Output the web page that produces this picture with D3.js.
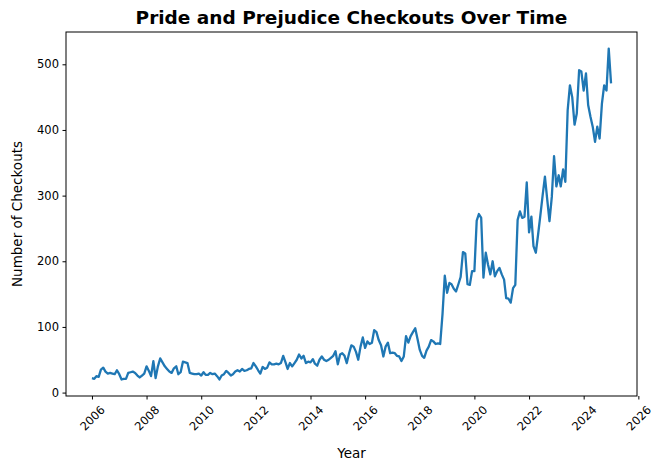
<!DOCTYPE html>
<html>
<head>
<meta charset="utf-8">
<script src="https://cdn.jsdelivr.net/npm/d3@7"></script>
<style>
    body { margin: 0; background: #fff; }
    text { font-family: "DejaVu Sans", sans-serif; }
</style>
</head>
<body>
<svg id="chart"></svg>
<script>
// monthly checkouts, Jan 2006 .. Feb 2025
let startYear = 2006;
let checkouts = [
    22, 21, 25, 24, 35, 38, 32, 29, 30, 29, 28, 34,       // 2006
    28, 20, 21, 21, 30, 31, 32, 30, 26, 23, 26, 29,       // 2007
    40, 33, 25, 48, 22, 40, 52, 46, 40, 36, 32, 30,       // 2008
    37, 40, 28, 31, 47, 46, 45, 30, 29, 28, 28, 29,       // 2009
    26, 31, 27, 27, 30, 28, 29, 25, 20, 26, 28, 33,       // 2010
    30, 26, 28, 32, 34, 32, 36, 33, 34, 36, 37, 45,       // 2011
    40, 34, 29, 39, 36, 38, 46, 43, 43, 44, 43, 45,       // 2012
    56, 46, 36, 45, 40, 45, 50, 58, 52, 56, 45, 47,       // 2013
    46, 51, 44, 41, 50, 55, 50, 48, 50, 53, 56, 63,       // 2014
    43, 58, 60, 56, 45, 60, 72, 70, 62, 50, 70, 84,       // 2015
    68, 78, 74, 76, 95, 92, 80, 72, 55, 70, 76, 60,       // 2016
    61, 60, 56, 55, 48, 55, 86, 76, 86, 92, 98, 82,       // 2017
    65, 56, 53, 64, 70, 80, 78, 74, 75, 74, 120, 178,     // 2018
    152, 167, 165, 158, 154, 165, 176, 214, 212, 165, 164, 185, // 2019
    185, 262, 272, 266, 175, 213, 195, 180, 200, 177, 185, 190, // 2020
    180, 172, 144, 143, 137, 159, 164, 263, 276, 266, 268, 320, // 2021
    244, 268, 223, 213, 240, 270, 300, 329, 294, 261, 298, 360, // 2022
    314, 331, 314, 340, 321, 430, 468, 450, 408, 425, 491, 489, // 2023
    460, 486, 438, 420, 405, 382, 405, 387, 440, 468, 460, 524, // 2024
    471                                                   // 2025
];
let yTicks = [0, 100, 200, 300, 400, 500];
let xTickYears = [2006, 2008, 2010, 2012, 2014, 2016, 2018, 2020, 2022, 2024, 2026];

let data = checkouts.map(function (v, i) {
    return {date: new Date(startYear + Math.floor(i / 12), i % 12, 1), value: v};
});

let w = 662, h = 470;
let margin = {left: 66, right: 25, top: 32, bottom: 74};
let tickFont = 11.5;

let svg = d3.select("#chart")
    .attr("width", w)
    .attr("height", h);

// matplotlib style 5% margins
function pad(ext) {
    let d = (ext[1] - ext[0]) * 0.05;
    return [ext[0] - d, ext[1] + d];
}

let tExt = d3.extent(data, function (d) { return +d.date; });
let vExt = d3.extent(data, function (d) { return d.value; });

let xScale = d3.scaleTime()
    .domain(pad(tExt).map(function (t) { return new Date(t); }))
    .range([margin.left, w - margin.right]);

let yScale = d3.scaleLinear()
    .domain(pad(vExt))
    .range([h - margin.bottom, margin.top]);

let xAxis = d3.axisBottom(xScale)
    .tickValues(xTickYears.map(function (y) { return new Date(y, 0, 1); }))
    .tickFormat(d3.timeFormat("%Y"))
    .tickSize(3.5)
    .tickPadding(3.5);

let yAxis = d3.axisLeft(yScale)
    .tickValues(yTicks)
    .tickSize(3.5)
    .tickPadding(3.5);

let line = d3.line()
    .x(function (d) { return xScale(d.date); })
    .y(function (d) { return yScale(d.value); });

svg.append("path")
    .datum(data)
    .attr("fill", "none")
    .attr("stroke", "#1f77b4")
    .attr("stroke-width", 2.3)
    .attr("stroke-linejoin", "round")
    .attr("d", line);

// frame
svg.append("rect")
    .attr("x", margin.left)
    .attr("y", margin.top)
    .attr("width", w - margin.left - margin.right)
    .attr("height", h - margin.top - margin.bottom)
    .attr("fill", "none")
    .attr("stroke", "#000")
    .attr("stroke-width", 1);

let gx = svg.append("g")
    .attr("transform", "translate(0," + (h - margin.bottom) + ")")
    .call(xAxis);
gx.select(".domain").remove();
gx.selectAll("line").attr("stroke", "#000");
// rotated labels: box centred under the tick, its top just below the tick
let labelBox = (4 * 0.636 * tickFont + 1.16 * tickFont) / Math.SQRT2;
gx.selectAll("text")
    .attr("font-size", tickFont)
    .attr("fill", "#000")
    .attr("text-anchor", "middle")
    .attr("dy", null)
    .attr("y", null)
    .attr("dominant-baseline", "central")
    .attr("transform", "translate(0," + (7 + labelBox / 2) + ") rotate(-45)");

let gy = svg.append("g")
    .attr("transform", "translate(" + margin.left + ",0)")
    .call(yAxis);
gy.select(".domain").remove();
gy.selectAll("line").attr("stroke", "#000");
gy.selectAll("text")
    .attr("font-size", tickFont)
    .attr("fill", "#000");

svg.append("text")
    .attr("x", (margin.left + w - margin.right) / 2)
    .attr("y", 24)
    .attr("text-anchor", "middle")
    .attr("font-size", 18.5)
    .attr("font-weight", "bold")
    .text("Pride and Prejudice Checkouts Over Time");

svg.append("text")
    .attr("x", (margin.left + w - margin.right) / 2)
    .attr("y", 458)
    .attr("text-anchor", "middle")
    .attr("font-size", 13.5)
    .text("Year");

svg.append("text")
    .attr("transform", "translate(22," + ((margin.top + h - margin.bottom) / 2) + ") rotate(-90)")
    .attr("text-anchor", "middle")
    .attr("font-size", 13.5)
    .text("Number of Checkouts");
</script>
</body>
</html>
